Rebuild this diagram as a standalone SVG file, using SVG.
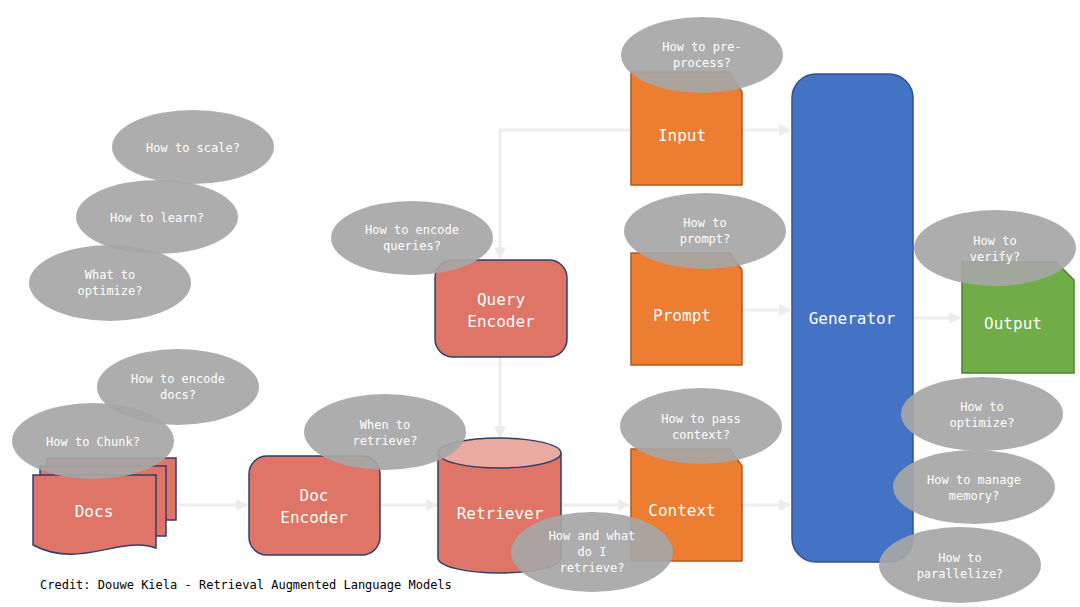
<svg xmlns="http://www.w3.org/2000/svg" width="1080" height="607" viewBox="0 0 1080 607">
<defs>
<marker id="ar" viewBox="0 0 10 10" refX="9" refY="5" markerWidth="4" markerHeight="4" orient="auto"><path d="M0,0L10,5L0,10z" fill="#ececec"/></marker>
<style>
.c{fill:none;stroke:#eeeeee;stroke-width:3;marker-end:url(#ar)}
.red{fill:#df7566;stroke:#2f3f6a;stroke-width:1.5}
.or{fill:#ed7d31;stroke:#ae5a21;stroke-width:1.5}
.nt{font-family:"DejaVu Sans Mono","Liberation Mono",monospace;font-size:16px;fill:#fff;text-anchor:middle}
.b{fill:#a6a6a6;opacity:0.92}
.bt{font-family:"DejaVu Sans Mono","Liberation Mono",monospace;font-size:12px;fill:#fff;text-anchor:middle}
</style>
</defs>
<rect width="1080" height="607" fill="#fff"/>
<g id="connectors">
<path class="c" d="M178,505H247"/>
<path class="c" d="M381,505H437"/>
<path class="c" d="M561,505H629"/>
<path class="c" d="M742,505H790"/>
<path class="c" d="M500,357V437"/>
<path class="c" d="M631,130H500V258"/>
<path class="c" d="M742,130H790"/>
<path class="c" d="M742,310H790"/>
<path class="c" d="M913,318H960"/>
</g>
<g id="docs">
<rect class="red" x="47" y="458" width="129" height="62"/>
<rect class="red" x="40" y="466" width="126" height="70"/>
<path class="red" d="M33,475H156V548C120,535 80,570 33,545Z"/>
<text class="nt" x="94" y="517">Docs</text>
</g>
<g id="docEncoder">
<rect class="red" x="249" y="456" width="131" height="99" rx="18"/>
<text class="nt" x="314" y="501">Doc</text><text class="nt" x="314" y="523">Encoder</text>
</g>
<g id="queryEncoder">
<rect class="red" x="435" y="260" width="132" height="97" rx="18"/>
<text class="nt" x="501" y="305">Query</text><text class="nt" x="501" y="327">Encoder</text>
</g>
<g id="retriever">
<path class="red" d="M438,453V558A61.5,15 0 0 0 561,558V453"/>
<ellipse cx="499.5" cy="453" rx="61.5" ry="15" fill="#eaa9a1" stroke="#2f3f6a" stroke-width="1.5"/>
<text class="nt" x="500" y="519">Retriever</text>
</g>
<g id="input">
<path class="or" d="M631,72H730L742,92V185H631Z"/>
<text class="nt" x="682" y="141">Input</text>
</g>
<g id="prompt">
<path class="or" d="M631,253H730L742,270V365H631Z"/>
<text class="nt" x="682" y="321">Prompt</text>
</g>
<g id="context">
<path class="or" d="M631,449H730L742,466V561H631Z"/>
<text class="nt" x="682" y="516">Context</text>
</g>
<g id="generator">
<rect x="792" y="74" width="121" height="488" rx="24" fill="#4472c4" stroke="#2f528f" stroke-width="1.5"/>
<text class="nt" x="852" y="324">Generator</text>
</g>
<g id="output">
<path d="M962,262H1056L1074,280V373H962Z" fill="#70ad47" stroke="#507e32" stroke-width="1.5"/>
<text class="nt" x="1013" y="329">Output</text>
</g>
<g id="bubbles">
<g><ellipse class="b" cx="702" cy="55" rx="81" ry="38"/><text class="bt" x="702" y="51">How to pre-</text><text class="bt" x="702" y="67">process?</text></g>
<g><ellipse class="b" cx="193" cy="147" rx="81" ry="37"/><text class="bt" x="193" y="152">How to scale?</text></g>
<g><ellipse class="b" cx="157" cy="217" rx="81" ry="37"/><text class="bt" x="157" y="222">How to learn?</text></g>
<g><ellipse class="b" cx="110" cy="283" rx="81" ry="38"/><text class="bt" x="110" y="279">What to</text><text class="bt" x="110" y="295">optimize?</text></g>
<g><ellipse class="b" cx="412" cy="238" rx="81" ry="37"/><text class="bt" x="412" y="234">How to encode</text><text class="bt" x="412" y="250">queries?</text></g>
<g><ellipse class="b" cx="178" cy="387" rx="81" ry="38"/><text class="bt" x="178" y="383">How to encode</text><text class="bt" x="178" y="399">docs?</text></g>
<g><ellipse class="b" cx="93" cy="441" rx="81" ry="38"/><text class="bt" x="93" y="446">How to Chunk?</text></g>
<g><ellipse class="b" cx="385" cy="432" rx="81" ry="38"/><text class="bt" x="385" y="429">When to</text><text class="bt" x="385" y="445">retrieve?</text></g>
<g><ellipse class="b" cx="705" cy="231" rx="81" ry="38"/><text class="bt" x="705" y="227">How to</text><text class="bt" x="705" y="243">prompt?</text></g>
<g><ellipse class="b" cx="995" cy="248" rx="81" ry="38"/><text class="bt" x="995" y="245">How to</text><text class="bt" x="995" y="261">verify?</text></g>
<g><ellipse class="b" cx="701" cy="426" rx="81" ry="38"/><text class="bt" x="701" y="423">How to pass</text><text class="bt" x="701" y="439">context?</text></g>
<g><ellipse class="b" cx="592" cy="552" rx="81" ry="40"/><text class="bt" x="592" y="540">How and what</text><text class="bt" x="592" y="556">do I</text><text class="bt" x="592" y="572">retrieve?</text></g>
<g><ellipse class="b" cx="982" cy="414" rx="81" ry="37"/><text class="bt" x="982" y="411">How to</text><text class="bt" x="982" y="427">optimize?</text></g>
<g><ellipse class="b" cx="974" cy="487" rx="81" ry="37"/><text class="bt" x="974" y="484">How to manage</text><text class="bt" x="974" y="500">memory?</text></g>
<g><ellipse class="b" cx="960" cy="565" rx="81" ry="38"/><text class="bt" x="960" y="562">How to</text><text class="bt" x="960" y="578">parallelize?</text></g>
</g>
<text x="40" y="589" font-family="'DejaVu Sans Mono','Liberation Mono',monospace" font-size="12" fill="#000">Credit: Douwe Kiela - Retrieval Augmented Language Models</text>
</svg>
